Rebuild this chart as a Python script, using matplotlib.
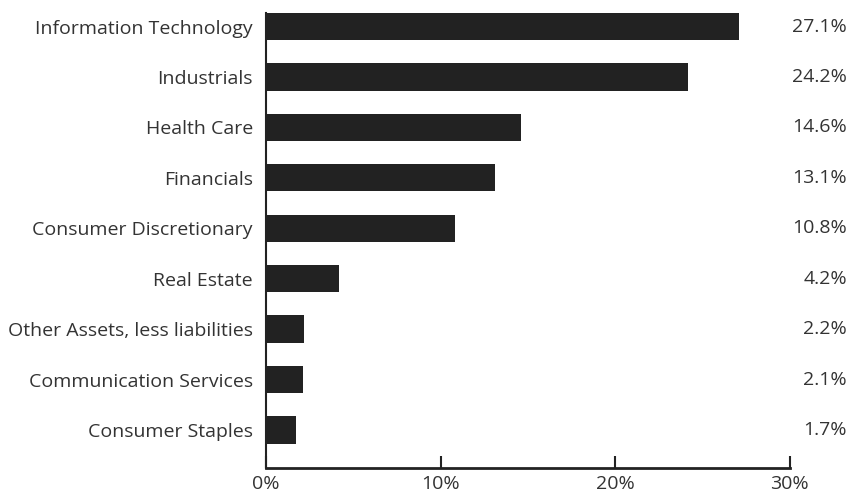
import numpy as np
import matplotlib.pyplot as plt
import matplotlib.transforms as mtransforms

plt.rcParams['font.family'] = ['Open Sans', 'DejaVu Sans']

sectors = ['Information Technology', 'Industrials', 'Health Care', 'Financials',
           'Consumer Discretionary', 'Real Estate', 'Other Assets, less liabilities',
           'Communication Services', 'Consumer Staples']
weights = [27.1, 24.2, 14.6, 13.1, 10.8, 4.2, 2.2, 2.1, 1.7]
xticks = [0, 10, 20, 30]

text_color = '#333333'
bar_color = '#222222'
fsize = 14

fig = plt.figure(figsize=(8.61, 4.92), dpi=100)
ax = fig.add_axes([0.309, 0.0488, 0.608, 0.9512])

N = len(sectors)
ypos = np.arange(N)[::-1]  # first sector at the top
height = 0.54
ax.barh(ypos, weights, height, color=bar_color)

ax.set_xlim(0, 30)
ax.set_ylim(-0.754, N - 1 + 0.526)

ax.set_yticks(ypos)
ax.set_yticklabels(sectors, fontsize=fsize, color=text_color)
ax.tick_params(axis='y', length=0, pad=9.5)

ax.set_xticks(xticks)
ax.set_xticklabels(['%d%%' % t for t in xticks], fontsize=fsize, color=text_color)
ax.tick_params(axis='x', direction='in', length=8.6, width=1.5, color='#222222', pad=5)

for s in ['top', 'right']:
    ax.spines[s].set_visible(False)
ax.spines['bottom'].set_linewidth(2)
ax.spines['bottom'].set_color('#222222')
ax.spines['left'].set_linewidth(1.5)
ax.spines['left'].set_color('#222222')
ax.spines['left'].set_bounds(-0.754, N - 1 + height / 2)

# value column to the right of the plot
trans = mtransforms.blended_transform_factory(ax.transAxes, ax.transData)
for y, w in zip(ypos, weights):
    ax.text(1.11, y, '%.1f%%' % w, transform=trans, ha='right', va='center',
            fontsize=fsize, color=text_color, clip_on=False)

fig.savefig('out.png', dpi=100)
